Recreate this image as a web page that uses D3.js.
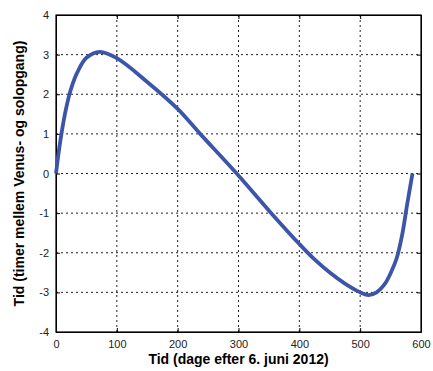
<!DOCTYPE html>
<html>
<head>
<meta charset="utf-8">
<script src="https://cdn.jsdelivr.net/npm/d3@7"></script>
<style>
  body { margin: 0; background: #fff; }
  svg text { font-family: "Liberation Sans", Arial, sans-serif; }
</style>
</head>
<body>
<div id="chart"></div>
<script>
// days after 6 June 2012
const days = [0, 5, 10, 16, 24, 35, 50, 72, 100, 150, 200, 237, 297, 352, 400, 425, 450, 475, 500, 514, 527, 540, 552, 560, 569, 577, 586];
// hours between Venus rise and sunrise
const hours = [0, 0.6, 1.1, 1.6, 2.1, 2.55, 2.92, 3.07, 2.91, 2.31, 1.63, 1.0, 0, -0.97, -1.78, -2.17, -2.5, -2.78, -3.0, -3.07, -3.0, -2.8, -2.45, -2.14, -1.55, -0.8, 0];
const xTicks = [0, 100, 200, 300, 400, 500, 600];
const yTicks = [-4, -3, -2, -1, 0, 1, 2, 3, 4];

const width = 433, height = 371;
const margin = { top: 15, right: 12, bottom: 39, left: 56 };
const w = width - margin.left - margin.right;
const h = height - margin.top - margin.bottom;

const svg = d3.select("#chart").append("svg")
  .attr("width", width)
  .attr("height", height);

const g = svg.append("g")
  .attr("transform", "translate(" + margin.left + "," + margin.top + ")");

const x = d3.scaleLinear().domain([0, 600]).range([0, w]);
const y = d3.scaleLinear().domain([-4, 4]).range([h, 0]);

// grid
g.append("g").selectAll("line")
  .data(xTicks.slice(1, -1))
  .join("line")
  .attr("x1", d => x(d)).attr("x2", d => x(d))
  .attr("y1", 0).attr("y2", h)
  .attr("stroke", "#222").attr("stroke-width", 1)
  .attr("stroke-dasharray", "2,3");

g.append("g").selectAll("line")
  .data(yTicks.slice(1, -1))
  .join("line")
  .attr("y1", d => y(d)).attr("y2", d => y(d))
  .attr("x1", 0).attr("x2", w)
  .attr("stroke", "#222").attr("stroke-width", 1)
  .attr("stroke-dasharray", "2,3");

// axes, ticks inside
const fmt = d => String(d);
const xAxis = g.append("g")
  .attr("transform", "translate(0," + h + ")")
  .call(d3.axisBottom(x).tickValues(xTicks).tickFormat(fmt).tickSizeInner(-4).tickSizeOuter(0).tickPadding(8));
const yAxis = g.append("g")
  .call(d3.axisLeft(y).tickValues(yTicks).tickFormat(fmt).tickSizeInner(-4).tickSizeOuter(0).tickPadding(7));
g.append("g")
  .call(d3.axisTop(x).tickValues(xTicks).tickSizeInner(-4).tickSizeOuter(0).tickFormat(""));
g.append("g")
  .attr("transform", "translate(" + w + ",0)")
  .call(d3.axisRight(y).tickValues(yTicks).tickSizeInner(-4).tickSizeOuter(0).tickFormat(""));

[xAxis, yAxis].forEach(a => a.selectAll("text")
  .attr("font-size", 11)
  .attr("fill", "#222")
  .style("font-family", "'Liberation Sans', Arial, sans-serif"));

g.selectAll(".domain").attr("stroke", "#000");

// box
g.append("rect")
  .attr("width", w).attr("height", h)
  .attr("fill", "none").attr("stroke", "#000").attr("stroke-width", 1.2);

// curve
const line = d3.line()
  .x((d, i) => x(days[i]))
  .y((d, i) => y(hours[i]))
  .curve(d3.curveCatmullRom.alpha(0.5));

g.append("path")
  .datum(hours)
  .attr("d", line)
  .attr("fill", "none")
  .attr("stroke", "#3d55a9")
  .attr("stroke-width", 3.8)
  .attr("stroke-linejoin", "round");

// labels
svg.append("text")
  .attr("x", margin.left + w / 2)
  .attr("y", 364)
  .attr("text-anchor", "middle")
  .attr("font-size", 14)
  .attr("font-weight", "bold")
  .text("Tid (dage efter 6. juni 2012)");

svg.append("text")
  .attr("transform", "translate(24," + (margin.top + h / 2) + ") rotate(-90)")
  .attr("text-anchor", "middle")
  .attr("font-size", 14)
  .attr("font-weight", "bold")
  .text("Tid (timer mellem Venus- og solopgang)");
</script>
</body>
</html>
